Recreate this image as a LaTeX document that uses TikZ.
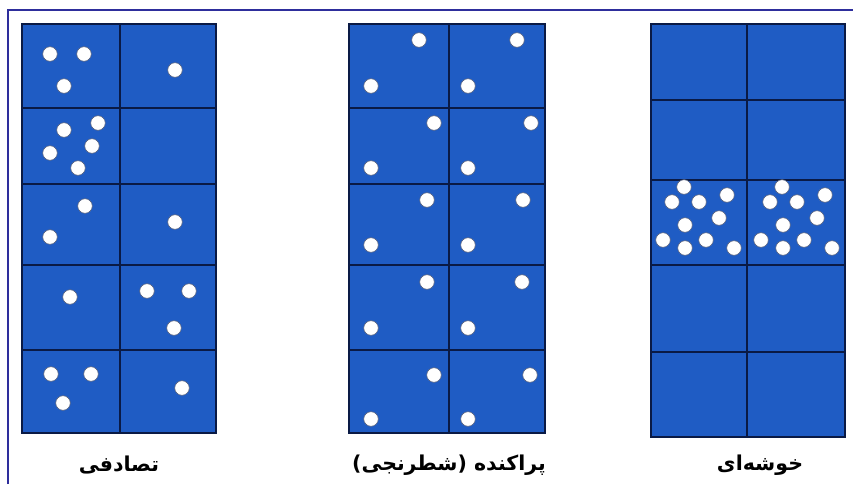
\documentclass[tikz,border=0pt]{standalone}
\usepackage{fontspec}
\usepackage{tikz}
\TeXXeTstate=1
\newfontfamily\arabicfont[Script=Arabic]{DejaVu Sans}
\definecolor{CellBlue}{HTML}{1F5CC4}
\definecolor{GridLine}{HTML}{0A1A45}
\definecolor{FrameBlue}{HTML}{2E2E9C}

\begin{document}
\begin{tikzpicture}[
  x=1pt,y=-1pt,
  panel/.style={fill=CellBlue,draw=GridLine,line width=1.2pt},
  gridline/.style={draw=GridLine,line width=1.8pt},
  dot/.style={fill=white,draw=GridLine!70,line width=0.6pt},
  patname/.style={font=\arabicfont\bfseries\fontsize{20.5}{24}\selectfont,inner sep=0pt}
]
  \useasboundingbox (0,0) rectangle (853,484);
  % frame (top and left only)
  \draw[FrameBlue,line width=1.2pt] (8,484) -- (8,10) -- (853,10);

  % random pattern
  \draw[panel] (22,24) rectangle (216,433);
  \draw[gridline] (120,24) -- (120,433);
  \foreach \y in {108,184,265,350}
    \draw[gridline] (22,\y) -- (216,\y);
  \foreach \p in {(50,54),(84,54),(64,86),(175,70),
                  (64,130),(98,123),(50,153),(92,146),(78,168),
                  (85,206),(50,237),(175,222),
                  (70,297),(147,291),(189,291),(174,328),
                  (51,374),(91,374),(63,403),(182,388)}
    \draw[dot] \p circle (7.3);

  % regular pattern
  \draw[panel] (349,24) rectangle (545,433);
  \draw[gridline] (449,24) -- (449,433);
  \foreach \y in {108,184,265,350}
    \draw[gridline] (349,\y) -- (545,\y);
  \foreach \p in {(419,40),(371,86),(517,40),(468,86),
                  (434,123),(371,168),(531,123),(468,168),
                  (427,200),(371,245),(523,200),(468,245),
                  (427,282),(371,328),(522,282),(468,328),
                  (434,375),(371,419),(530,375),(468,419)}
    \draw[dot] \p circle (7.3);

  % clustered pattern
  \draw[panel] (651,24) rectangle (845,437);
  \draw[gridline] (747,24) -- (747,437);
  \foreach \y in {100,180,265,352}
    \draw[gridline] (651,\y) -- (845,\y);
  \foreach \dx in {0,98}
    \foreach \p in {(684,187),(672,202),(699,202),(727,195),(719,218),
                    (685,225),(663,240),(685,248),(706,240),(734,248)}
      \draw[dot,xshift=\dx] \p circle (7.3);

  % names
  \node[patname] (random) at (119,465) {\beginR تصادفی\endR};
  \node[patname] (regular) at (449,465) {\beginR پراکنده (شطرنجی)\endR};
  \node[patname] (cluster) at (760,465) {\beginR خوشه‌ای\endR};
\end{tikzpicture}
\end{document}
